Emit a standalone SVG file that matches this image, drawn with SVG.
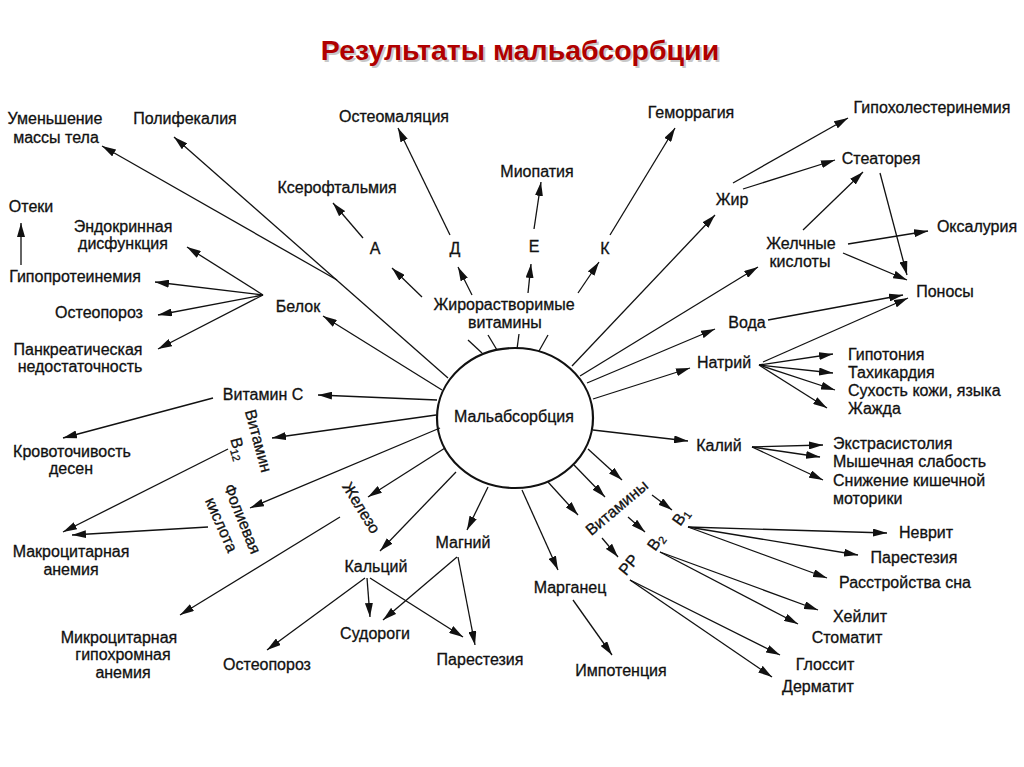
<svg xmlns="http://www.w3.org/2000/svg" width="1024" height="767" viewBox="0 0 1024 767">
<defs>
<marker id="ah" viewBox="0 0 14 8" refX="14" refY="4" markerWidth="14" markerHeight="8" markerUnits="userSpaceOnUse" orient="auto">
<path d="M0,0 L14,4 L0,8 z" fill="#111"/>
</marker>
<style>
text{font-family:"Liberation Sans",Arial,sans-serif;font-size:16px;fill:#111;stroke:#111;stroke-width:0.3}
.m{text-anchor:middle}
.c line{stroke:#111;stroke-width:1.3;marker-end:url(#ah)}
.c line.n{marker-end:none}
.title{font-size:28.5px;font-weight:bold;fill:#b00000;stroke:none}
.sh{font-size:28.5px;font-weight:bold;fill:#c8c8c8;stroke:none}
</style>
</defs>
<rect width="1024" height="767" fill="#fff"/>
<g id="title">
<text class="sh m" x="522" y="62">Результаты мальабсорбции</text>
<text class="title m" x="520" y="60">Результаты мальабсорбции</text>
</g>
<g id="center">
<ellipse cx="515" cy="418" rx="78" ry="70" fill="none" stroke="#111" stroke-width="2.2"/>
<text class="m" x="514" y="422">Мальабсорбция</text>
</g>
<g class="c" id="connectors">
<line x1="448" y1="378" x2="174" y2="137"/>
<line x1="337" y1="280" x2="102" y2="146"/>
<line x1="442" y1="390" x2="323" y2="316"/>
<line x1="437" y1="400" x2="318" y2="395"/>
<line x1="436" y1="415" x2="272" y2="438"/>
<line x1="440" y1="428" x2="250" y2="508"/>
<line x1="445" y1="448" x2="368" y2="497"/>
<line x1="456" y1="472" x2="380" y2="551"/>
<line x1="488" y1="487" x2="467" y2="530"/>
<line x1="522" y1="490" x2="558" y2="570"/>
<line x1="548" y1="482" x2="578" y2="515"/>
<line x1="574" y1="465" x2="605" y2="497"/>
<line x1="588" y1="449" x2="622" y2="480"/>
<line x1="593" y1="430" x2="688" y2="441"/>
<line x1="593" y1="399" x2="690" y2="368"/>
<line x1="587" y1="383" x2="715" y2="329"/>
<line x1="580" y1="376" x2="758" y2="267"/>
<line x1="572" y1="366" x2="715" y2="215"/>
<line class="n" x1="482" y1="353" x2="468" y2="340"/>
<line class="n" x1="497" y1="350" x2="488" y2="335"/>
<line class="n" x1="517" y1="349" x2="519" y2="334"/>
<line class="n" x1="539" y1="351" x2="548" y2="335"/>
<line x1="422" y1="297" x2="392" y2="268"/>
<line x1="472" y1="295" x2="458" y2="267"/>
<line x1="528" y1="293" x2="531" y2="264"/>
<line x1="578" y1="293" x2="599" y2="262"/>
<line x1="363" y1="238" x2="333" y2="203"/>
<line x1="450" y1="235" x2="398" y2="128"/>
<line x1="534" y1="229" x2="541" y2="182"/>
<line x1="610" y1="235" x2="675" y2="128"/>
<line x1="263" y1="295" x2="187" y2="247"/>
<line x1="263" y1="295" x2="155" y2="282"/>
<line x1="263" y1="295" x2="158" y2="315"/>
<line x1="263" y1="295" x2="158" y2="349"/>
<line x1="21" y1="265" x2="21" y2="223"/>
<line x1="213" y1="398" x2="63" y2="438"/>
<line x1="228" y1="449" x2="63" y2="532"/>
<line x1="208" y1="527" x2="72" y2="535"/>
<line x1="340" y1="517" x2="180" y2="615"/>
<line x1="365" y1="578" x2="267" y2="650"/>
<line x1="367" y1="578" x2="370" y2="617"/>
<line x1="370" y1="578" x2="463" y2="637"/>
<line x1="457" y1="557" x2="383" y2="620"/>
<line x1="458" y1="557" x2="475" y2="645"/>
<line x1="573" y1="600" x2="612" y2="655"/>
<line x1="652" y1="495" x2="672" y2="510"/>
<line x1="628" y1="517" x2="645" y2="532"/>
<line x1="602" y1="538" x2="618" y2="557"/>
<line x1="688" y1="527" x2="887" y2="533"/>
<line x1="688" y1="527" x2="858" y2="555"/>
<line x1="688" y1="527" x2="827" y2="578"/>
<line x1="660" y1="552" x2="818" y2="610"/>
<line x1="660" y1="552" x2="798" y2="624"/>
<line x1="630" y1="580" x2="780" y2="655"/>
<line x1="630" y1="580" x2="772" y2="677"/>
<line x1="752" y1="447" x2="823" y2="445"/>
<line x1="752" y1="447" x2="820" y2="457"/>
<line x1="752" y1="447" x2="823" y2="480"/>
<line x1="759" y1="365" x2="833" y2="354"/>
<line x1="759" y1="365" x2="833" y2="373"/>
<line x1="759" y1="365" x2="835" y2="390"/>
<line x1="759" y1="365" x2="827" y2="408"/>
<line x1="763" y1="362" x2="908" y2="298"/>
<line x1="768" y1="320" x2="903" y2="295"/>
<line x1="733" y1="183" x2="848" y2="118"/>
<line x1="743" y1="189" x2="835" y2="160"/>
<line x1="803" y1="230" x2="863" y2="172"/>
<line x1="848" y1="244" x2="928" y2="231"/>
<line x1="843" y1="253" x2="907" y2="280"/>
<line x1="880" y1="173" x2="907" y2="275"/>
</g>
<g id="n-umensh"><text class="m" x="55" y="124">Уменьшение</text><text class="m" x="56" y="143">массы тела</text></g>
<g id="n-polifek"><text class="m" x="185" y="124">Полифекалия</text></g>
<g id="n-oteki"><text class="m" x="31" y="212">Отеки</text></g>
<g id="n-endokr"><text class="m" x="123" y="232">Эндокринная</text><text class="m" x="123" y="249">дисфункция</text></g>
<g id="n-gipoprot"><text class="m" x="75" y="282">Гипопротеинемия</text></g>
<g id="n-osteopor1"><text class="m" x="99" y="318">Остеопороз</text></g>
<g id="n-pankr"><text class="m" x="78" y="355">Панкреатическая</text><text class="m" x="80" y="372">недостаточность</text></g>
<g id="n-belok"><text class="m" x="298" y="312">Белок</text></g>
<g id="n-kserof"><text class="m" x="337" y="193">Ксерофтальмия</text></g>
<g id="n-osteomal"><text class="m" x="394" y="122">Остеомаляция</text></g>
<g id="n-miopat"><text class="m" x="537" y="177">Миопатия</text></g>
<g id="n-a"><text class="m" x="375" y="254">А</text></g>
<g id="n-d"><text class="m" x="455" y="254">Д</text></g>
<g id="n-e"><text class="m" x="534" y="252">Е</text></g>
<g id="n-k"><text class="m" x="605" y="254">К</text></g>
<g id="n-zhirvit"><text class="m" x="504" y="310">Жирорастворимые</text><text class="m" x="505" y="328">витамины</text></g>
<g id="n-gemor"><text class="m" x="691" y="118">Геморрагия</text></g>
<g id="n-gipohol"><text class="m" x="932" y="113">Гипохолестеринемия</text></g>
<g id="n-steat"><text class="m" x="881" y="164">Стеаторея</text></g>
<g id="n-zhir"><text class="m" x="732" y="205">Жир</text></g>
<g id="n-oksal"><text class="m" x="977" y="232">Оксалурия</text></g>
<g id="n-zhelch"><text class="m" x="801" y="249">Желчные</text><text class="m" x="800" y="267">кислоты</text></g>
<g id="n-ponosy"><text class="m" x="945" y="297">Поносы</text></g>
<g id="n-voda"><text class="m" x="747" y="328">Вода</text></g>
<g id="n-natr"><text class="m" x="724" y="368">Натрий</text></g>
<g id="n-natr-out"><text x="848" y="360">Гипотония</text><text x="848" y="378">Тахикардия</text><text x="848" y="396">Сухость кожи, языка</text><text x="848" y="414">Жажда</text></g>
<g id="n-kal"><text class="m" x="719" y="451">Калий</text></g>
<g id="n-kal-out"><text x="833" y="449">Экстрасистолия</text><text x="833" y="467">Мышечная слабость</text><text x="833" y="486">Снижение кишечной</text><text x="833" y="504">моторики</text></g>
<g id="n-vitc"><text class="m" x="263" y="400">Витамин С</text></g>
<g id="n-krov"><text class="m" x="72" y="457">Кровоточивость</text><text class="m" x="71" y="474">десен</text></g>
<g id="n-b12"><g transform="translate(258,441) rotate(75)"><text class="m" x="0" y="5">Витамин</text></g><g transform="translate(238,449) rotate(75)"><text class="m" x="0" y="5">В<tspan font-size="11" dy="3">12</tspan></text></g></g>
<g id="n-fol"><g transform="translate(242,519) rotate(68)"><text class="m" x="0" y="5">Фолиевая</text></g><g transform="translate(221,525) rotate(66)"><text class="m" x="0" y="5">кислота</text></g></g>
<g id="n-zhelezo"><g transform="translate(361,508) rotate(58)"><text class="m" x="0" y="5">Железо</text></g></g>
<g id="n-makro"><text class="m" x="71" y="557">Макроцитарная</text><text class="m" x="71" y="575">анемия</text></g>
<g id="n-mikro"><text class="m" x="119" y="643">Микроцитарная</text><text class="m" x="123" y="660">гипохромная</text><text class="m" x="123" y="678">анемия</text></g>
<g id="n-osteopor2"><text class="m" x="267" y="670">Остеопороз</text></g>
<g id="n-kalc"><text class="m" x="376" y="572">Кальций</text></g>
<g id="n-magn"><text class="m" x="463" y="548">Магний</text></g>
<g id="n-sudor"><text class="m" x="375" y="639">Судороги</text></g>
<g id="n-parest1"><text class="m" x="480" y="665">Парестезия</text></g>
<g id="n-marg"><text class="m" x="570" y="593">Марганец</text></g>
<g id="n-impot"><text class="m" x="621" y="676">Импотенция</text></g>
<g id="n-vitaminy"><g transform="translate(617,508) rotate(-40)"><text class="m" x="0" y="5">Витамины</text></g></g>
<g id="n-b1"><g transform="translate(681,517) rotate(-55)"><text class="m" x="0" y="5">В<tspan font-size="11" dy="3">1</tspan></text></g></g>
<g id="n-b2"><g transform="translate(656,542) rotate(-55)"><text class="m" x="0" y="5">В<tspan font-size="11" dy="3">2</tspan></text></g></g>
<g id="n-pp"><g transform="translate(629,565) rotate(-50)"><text class="m" x="0" y="5">PP</text></g></g>
<g id="n-nevrit"><text class="m" x="926" y="538">Неврит</text></g>
<g id="n-parest2"><text class="m" x="914" y="563">Парестезия</text></g>
<g id="n-rasstr"><text class="m" x="905" y="588">Расстройства сна</text></g>
<g id="n-heilit"><text class="m" x="860" y="622">Хейлит</text></g>
<g id="n-stomat"><text class="m" x="847" y="643">Стоматит</text></g>
<g id="n-gloss"><text class="m" x="825" y="670">Глоссит</text></g>
<g id="n-dermat"><text class="m" x="818" y="692">Дерматит</text></g>
</svg>
